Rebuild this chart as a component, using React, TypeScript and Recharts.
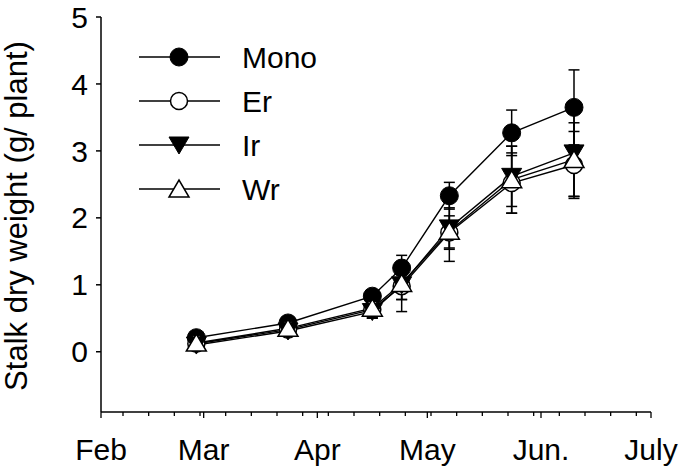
import { ErrorBar, Line, LineChart, XAxis, YAxis } from 'recharts';

// sampling dates, as days after Feb 1
const sampleDays = [26, 51, 74, 82, 95, 112, 129];

const mono = [0.21, 0.43, 0.83, 1.25, 2.33, 3.27, 3.65];
const er = [0.12, 0.33, 0.63, 0.98, 1.78, 2.52, 2.79];
const ir = [0.1, 0.31, 0.6, 1.0, 1.85, 2.62, 2.97];
const wr = [0.13, 0.35, 0.65, 1.02, 1.8, 2.57, 2.87];

const monoErr = [0.04, 0.05, 0.08, 0.1, 0.2, 0.34, 0.56];
const erErr = [0.03, 0.04, 0.12, 0.2, 0.25, 0.45, 0.5];
const irErr = [0.03, 0.04, 0.1, 0.22, 0.3, 0.45, 0.65];
const wrErr = [0.04, 0.05, 0.15, 0.42, 0.45, 0.5, 0.55];

const monthTicks = [0, 28, 59, 89, 120, 150];
const monthLabels = ['Feb', 'Mar', 'Apr', 'May', 'Jun.', 'July'];
const weekTicks = [6, 13, 20, 27, 34, 41, 48, 55, 62, 69, 76, 83, 90, 97, 104, 111, 118, 125, 132, 139, 146];
const yTicks = [0, 1, 2, 3, 4, 5];

const seriesNames = ['Mono', 'Er', 'Ir', 'Wr'];
const seriesKeys = ['mono', 'er', 'ir', 'wr'];
const markerKinds = ['filledCircle', 'openCircle', 'filledDown', 'openUp'];

const data = sampleDays.map((day, i) => ({
  day,
  mono: mono[i],
  monoErr: monoErr[i],
  er: er[i],
  erErr: erErr[i],
  ir: ir[i],
  irErr: irErr[i],
  wr: wr[i],
  wrErr: wrErr[i],
}));

const FONT = '"Liberation Sans", Arial, sans-serif';

function Marker({ kind, cx, cy }: { kind: string; cx?: number; cy?: number }) {
  if (cx == null || cy == null) return null;
  switch (kind) {
    case 'filledCircle':
      return <circle cx={cx} cy={cy} r={9} fill="#000" stroke="#000" strokeWidth={1} />;
    case 'openCircle':
      return <circle cx={cx} cy={cy} r={8.5} fill="#fff" stroke="#000" strokeWidth={1.5} />;
    case 'filledDown':
      return <polygon points={`${cx - 10},${cy - 8} ${cx + 10},${cy - 8} ${cx},${cy + 9}`} fill="#000" stroke="#000" />;
    default:
      return (
        <polygon
          points={`${cx - 10},${cy + 8} ${cx + 10},${cy + 8} ${cx},${cy - 9}`}
          fill="#fff"
          stroke="#000"
          strokeWidth={1.5}
        />
      );
  }
}

function DateTick({ x, y, payload }: any) {
  const idx = monthTicks.indexOf(payload.value);
  const major = idx >= 0;
  return (
    <g>
      <line x1={x} x2={x} y1={y} y2={y + (major ? 6 : 4)} stroke="#000" strokeWidth={1.3} />
      {major && (
        <text x={x} y={y + 48} textAnchor="middle" fontSize={30} fill="#000" fontFamily={FONT}>
          {monthLabels[idx]}
        </text>
      )}
    </g>
  );
}

export default function App() {
  return (
    <div style={{ fontFamily: FONT, width: 685, height: 473 }}>
      <style>{'body{margin:0}'}</style>
      <LineChart width={685} height={473} data={data} margin={{ top: 17, right: 34, bottom: 0, left: 0 }}>
        <XAxis
          dataKey="day"
          type="number"
          domain={[0, 150]}
          ticks={[...monthTicks, ...weekTicks].sort((a, b) => a - b)}
          interval={0}
          height={61}
          tickSize={0}
          tickMargin={0}
          tickLine={false}
          axisLine={{ stroke: '#000', strokeWidth: 1.5 }}
          tick={<DateTick />}
        />
        <YAxis
          type="number"
          domain={[-0.9, 5]}
          ticks={yTicks}
          interval={0}
          width={101}
          tickSize={5}
          tickMargin={8}
          axisLine={{ stroke: '#000', strokeWidth: 1.5 }}
          tickLine={{ stroke: '#000', strokeWidth: 1.5 }}
          tick={{ fill: '#000', fontSize: 30, fontFamily: FONT }}
        />
        {seriesKeys.map((key, s) => (
          <Line
            key={key}
            dataKey={key}
            name={seriesNames[s]}
            stroke="#000"
            strokeWidth={1.4}
            isAnimationActive={false}
            dot={(p: any) => <Marker key={`${key}-${p.index}`} kind={markerKinds[s]} cx={p.cx} cy={p.cy} />}
            activeDot={false}
          >
            <ErrorBar dataKey={`${key}Err`} direction="y" width={5.5} stroke="#000" strokeWidth={1.5} />
          </Line>
        ))}
        <text
          x={27}
          y={216}
          transform="rotate(-90, 27, 216)"
          textAnchor="middle"
          fontSize={31}
          fill="#000"
          fontFamily={FONT}
        >
          Stalk dry weight (g/ plant)
        </text>
        {seriesNames.map((name, s) => {
          const cy = 57 + s * 44;
          return (
            <g key={name}>
              <line x1={139} x2={220} y1={cy} y2={cy} stroke="#000" strokeWidth={1.5} />
              <Marker kind={markerKinds[s]} cx={179} cy={cy} />
              <text x={242} y={cy + 11} fontSize={30} fill="#000" fontFamily={FONT}>
                {name}
              </text>
            </g>
          );
        })}
      </LineChart>
    </div>
  );
}
